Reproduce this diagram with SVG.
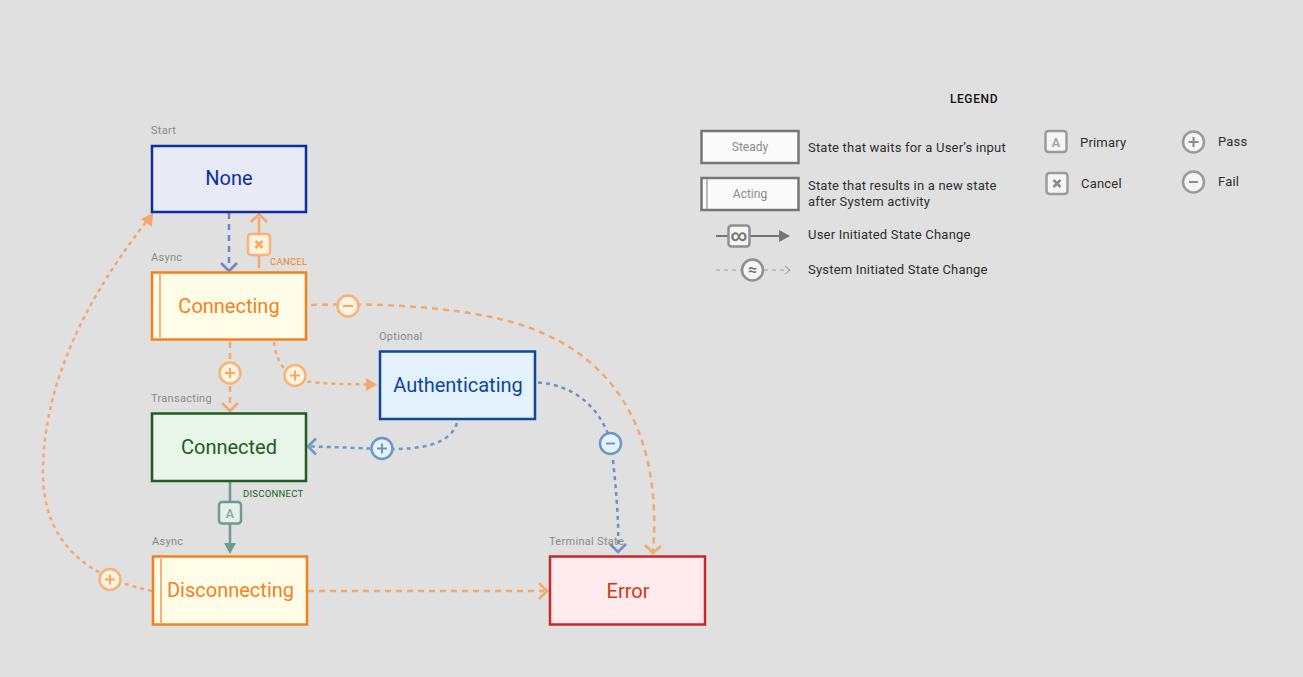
<svg xmlns="http://www.w3.org/2000/svg" width="1303" height="677" viewBox="0 0 1303 677">
<style>
text{font-family:Roboto,"Liberation Sans",sans-serif}
.lbl{font-size:20px;text-anchor:middle}
.cap{font-size:11px;fill:#8a8a8a;letter-spacing:.3px}
.act{font-size:9.500px;letter-spacing:.25px}
.leg{font-size:13px;fill:#2e2e2e;letter-spacing:.2px}
.c{fill:none;stroke-width:2.500}
.o{stroke:#f2a86e}.b{stroke:#6f8fc8}.lb{stroke:#6c98c8}
.d{stroke-dasharray:6 5}.dd{stroke-dasharray:4 4}
</style>
<rect width="1303" height="677" fill="#e0e0e0"/>
<g id="connectors">
<path class="c b d" d="M229 213V268" style="stroke:#6f86c4"/>
<path class="c" d="M221 263L229 271L237 263" style="stroke:#6f86c4"/>
<path class="c o" d="M259 268V217"/>
<path class="c o" d="M251 222L259 214L267 222"/>
<path class="c o d" d="M230 342V408"/>
<path class="c o" d="M222 403L230 411L238 403"/>
<path class="c o dd" d="M274 342C276 362 286 376 305 381C322 384 345 384 366 384.500"/>
<path fill="#f2a86e" d="M366 378L377 384.500L366 391Z"/>
<path class="c o d" d="M311 305C400 302 490 310 540 332C620 365 662 440 653 552"/>
<path class="c o" d="M645 545L653 553L661 546"/>
<path class="c dd" d="M538 382.500C575 385 598 408 608 434" style="stroke:#6f90c4"/>
<path class="c dd" d="M613 460C616 490 619 520 618 547" style="stroke:#6f90c4"/>
<path class="c" d="M610 544L618 552L626 544" style="stroke:#6f90c4"/>
<path class="c lb dd" d="M457 423C450 445 420 450 382 449C355 448 335 447 310 446.500"/>
<path class="c lb" d="M316 438.500L308 446.500L316 454.500"/>
<path class="c" d="M230 482V546" style="stroke:#6f9a92"/>
<path fill="#6f9a92" d="M224 543H236L230 554Z"/>
<path class="c o dd" d="M152 591C90 578 42 545 43 470C44 370 100 280 150 217"/>
<path fill="#f2a86e" d="M141 219L153 213L152 227Z"/>
<path class="c o d" d="M308 591H544"/>
<path class="c o" d="M539 583L547 591L539 599"/>
</g>
<g id="none"><text class="cap" x="151" y="134">Start</text><rect x="152" y="146" width="154" height="66" fill="#e8eaf6" stroke="#0d2fa0" stroke-width="2.500"/><text class="lbl" x="229" y="185" fill="#0d2fa0">None</text></g>
<g id="connecting"><text class="cap" x="151" y="261">Async</text><rect x="152" y="272.500" width="154" height="67" fill="#fffde7" stroke="#f5801e" stroke-width="2.500"/><path d="M160 273V339" stroke="#f7b27a" stroke-width="2"/><text class="lbl" x="229" y="312.500" fill="#f5801e">Connecting</text></g>
<g id="connected"><text class="cap" x="151" y="402">Transacting</text><rect x="152" y="413.500" width="154" height="67.500" fill="#e8f5e9" stroke="#1b5e20" stroke-width="2.500"/><text class="lbl" x="229" y="453.500" fill="#1b5e20">Connected</text></g>
<g id="authenticating"><text class="cap" x="379" y="340">Optional</text><rect x="380" y="351.500" width="155" height="67.500" fill="#e3f2fd" stroke="#0d47a1" stroke-width="2.500"/><text class="lbl" x="458" y="391.500" fill="#0d47a1">Authenticating</text></g>
<g id="disconnecting"><text class="cap" x="152" y="545">Async</text><rect x="153" y="556.500" width="154" height="68" fill="#fffde7" stroke="#f5801e" stroke-width="2.500"/><path d="M161 557V624" stroke="#f7b27a" stroke-width="2"/><text class="lbl" x="230.500" y="596.500" fill="#f5801e">Disconnecting</text></g>
<g id="error"><text class="cap" x="549" y="545">Terminal State</text><rect x="550" y="556.500" width="155" height="68" fill="#ffebee" stroke="#c62828" stroke-width="2.500"/><text class="lbl" x="628" y="597.500" fill="#d0380f">Error</text></g>
<g id="badge-cancel"><rect x="248" y="234" width="22" height="21" rx="3" fill="#fff3e0" stroke="#f7b27a" stroke-width="2.500"/><path d="M255.500 241L262.500 248M262.500 241L255.500 248" stroke="#f7a860" stroke-width="2.500"/><text class="act" x="270" y="265" fill="#f5801e">CANCEL</text></g>
<g id="badge-connecting-fail"><circle cx="348" cy="306" r="10.500" fill="#fff3e0" stroke="#f7b27a" stroke-width="2.500"/><path d="M343 306H353" stroke="#f7a860" stroke-width="2"/></g>
<g id="badge-connecting-pass"><circle cx="230" cy="373" r="10.500" fill="#fff3e0" stroke="#f7b27a" stroke-width="2.500"/><path d="M225 373H235M230 368V378" stroke="#f7a860" stroke-width="2"/></g>
<g id="badge-auth-pass"><circle cx="295" cy="375.500" r="10.500" fill="#fff3e0" stroke="#f7b27a" stroke-width="2.500"/><path d="M290 375.500H300M295 370.500V380.500" stroke="#f7a860" stroke-width="2"/></g>
<g id="badge-connected-pass"><circle cx="382" cy="448.500" r="10.500" fill="#e3f2fd" stroke="#6c98c8" stroke-width="2.500"/><path d="M377 448.500H387M382 443.500V453.500" stroke="#6c98c8" stroke-width="2"/></g>
<g id="badge-auth-fail"><circle cx="610.500" cy="443.500" r="10.500" fill="#e3f2fd" stroke="#6c98c8" stroke-width="2.500"/><path d="M606 443.500H615" stroke="#6c98c8" stroke-width="2"/></g>
<g id="badge-disconnect"><rect x="219" y="502" width="22" height="21.500" rx="3" fill="#e3f0ec" stroke="#6f9a92" stroke-width="2.500"/><text x="230" y="517.500" font-size="12.500" font-weight="500" text-anchor="middle" fill="#7fae96">A</text><text class="act" x="243" y="497" fill="#1b5e20">DISCONNECT</text></g>
<g id="badge-disc-pass"><circle cx="110" cy="579.500" r="10.500" fill="#fff3e0" stroke="#f7b27a" stroke-width="2.500"/><path d="M105 579.500H115M110 574.500V584.500" stroke="#f7a860" stroke-width="2"/></g>
<g id="legend">
<text x="974" y="102.500" font-size="12" font-weight="500" text-anchor="middle" fill="#111" letter-spacing=".6">LEGEND</text>
<rect x="701.500" y="131" width="97" height="32" fill="#fafafa" stroke="#757575" stroke-width="2.500"/>
<text x="750" y="151" font-size="12" text-anchor="middle" fill="#8a8a8a">Steady</text>
<text class="leg" x="808" y="152">State that waits for a User’s input</text>
<rect x="701.500" y="178" width="97" height="32" fill="#fafafa" stroke="#757575" stroke-width="2.500"/>
<path d="M707 179V209" stroke="#b8b8b8" stroke-width="2"/>
<text x="750" y="198" font-size="12" text-anchor="middle" fill="#8a8a8a">Acting</text>
<text class="leg" x="808" y="190">State that results in a new state</text>
<text class="leg" x="808" y="206">after System activity</text>
<path d="M716 236H782" stroke="#757575" stroke-width="2"/><path d="M779 230L790 236L779 242Z" fill="#757575"/>
<rect x="728.500" y="225.500" width="21" height="21" rx="3" fill="#f5f5f5" stroke="#8f8f8f" stroke-width="2.500"/>
<text x="739" y="241" font-size="16" font-weight="700" text-anchor="middle" fill="#757575">∞</text>
<text class="leg" x="808" y="239">User Initiated State Change</text>
<path d="M716 270H790" stroke="#9a9a9a" stroke-width="1" stroke-dasharray="4 4"/><path d="M785 266L790 270L785 274" fill="none" stroke="#9a9a9a"/>
<circle cx="752.500" cy="270" r="10.500" fill="#f5f5f5" stroke="#8f8f8f" stroke-width="2.500"/>
<text x="752.500" y="275" font-size="16" font-weight="700" text-anchor="middle" fill="#757575">≈</text>
<text class="leg" x="808" y="274">System Initiated State Change</text>
<rect x="1045.500" y="131" width="21" height="21" rx="3" fill="#f5f5f5" stroke="#9a9a9a" stroke-width="2.500"/>
<text x="1056" y="146.500" font-size="12.500" font-weight="500" text-anchor="middle" fill="#9a9a9a">A</text>
<text class="leg" x="1080" y="146.500">Primary</text>
<rect x="1046.500" y="173" width="21" height="21" rx="3" fill="#f5f5f5" stroke="#9a9a9a" stroke-width="2.500"/>
<path d="M1053.500 180L1060.500 187M1060.500 180L1053.500 187" stroke="#8a8a8a" stroke-width="2.500"/>
<text class="leg" x="1081" y="188">Cancel</text>
<circle cx="1193.500" cy="142" r="10.500" fill="#f5f5f5" stroke="#9a9a9a" stroke-width="2.500"/>
<path d="M1188.500 142H1198.500M1193.500 137V147" stroke="#8a8a8a" stroke-width="2"/>
<text class="leg" x="1218" y="146">Pass</text>
<circle cx="1193.500" cy="182" r="10.500" fill="#f5f5f5" stroke="#9a9a9a" stroke-width="2.500"/>
<path d="M1189 182H1198" stroke="#8a8a8a" stroke-width="2"/>
<text class="leg" x="1218" y="185.500">Fail</text>
</g>
</svg>
